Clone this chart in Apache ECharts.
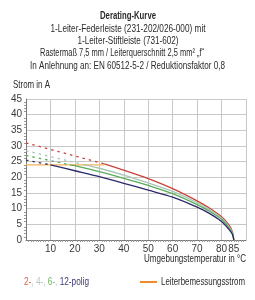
<!DOCTYPE html>
<html>
<head>
<meta charset="utf-8">
<script src="https://cdn.jsdelivr.net/npm/echarts@6/dist/echarts.min.js"></script>
<style>
  html, body { margin: 0; padding: 0; background: #fff; }
  #chart { width: 255px; height: 300px; }
</style>
</head>
<body>
<div id="chart"></div>
<script>
// Achsenbeschriftung
const xTickLabels = [10, 20, 30, 40, 50, 60, 70, 80, 85]
const yTickLabels = [0, 5, 10, 15, 20, 25, 30, 35, 40, 45]

// [Temperatur °C, Strom A] - gestrichelt oberhalb Leiterbemessungsstrom
const pol2Dash = [[0, 31.0], [32, 24.3]]
const pol2 = [[32, 24.3], [40, 22.3], [50, 19.6], [60, 16.4], [70, 12.5], [75, 10.2], [80, 7.4], [83, 4.8], [84.5, 2.5], [85, 0]]
const pol4Dash = [[0, 28.5], [24, 24.0]]
const pol4 = [[24, 24.0], [30, 22.9], [40, 20.7], [50, 18.2], [60, 15.5], [70, 11.9], [75, 9.7], [80, 7.0], [83, 4.3], [84.5, 2.2], [85, 0]]
const pol6Dash = [[0, 27.0], [18, 24.0]]
const pol6 = [[18, 24.0], [20, 23.7], [30, 21.8], [40, 19.7], [50, 17.4], [60, 14.8], [70, 11.3], [75, 9.2], [80, 6.6], [83, 3.9], [84.5, 2.0], [85, 0]]
const pol12Dash = [[0, 25.5], [10, 24.0]]
const pol12 = [[10, 24.0], [20, 22.1], [30, 20.2], [40, 18.1], [50, 15.9], [60, 13.7], [70, 10.5], [75, 8.5], [80, 5.9], [83, 3.4], [84.5, 1.7], [85, 0]]
const ratedCurrent = [[0, 24], [32, 24]]

const FONT = '"Liberation Sans", Arial, sans-serif'
const COLORS = { p2: '#c8423a', p4: '#a9c5b6', p6: '#5aab5a', p12: '#2c2a68', rated: '#f3b35a' }

// schmale Schrift nachbilden: Text horizontal auf Zielbreite stauchen
const ctx = document.createElement('canvas').getContext('2d')
function narrowText(text, font, x, y, width, align, extra) {
  ctx.font = font
  const plain = text.replace(/\{\w+\|([^}]*)\}/g, '$1')
  const w = ctx.measureText(plain).width
  return {
    type: 'text', x, y, scaleX: width / w,
    style: Object.assign({ text, font, fill: '#2a2a2a', textAlign: align, textVerticalAlign: 'middle' }, extra || {})
  }
}

const chart = echarts.init(document.getElementById('chart'))

const solid = (data, color) => ({
  type: 'line', data, smooth: 0.3, symbol: 'none',
  lineStyle: { color, width: 1.3 }, z: 3
})
const dashed = (data, color) => ({
  type: 'line', data, symbol: 'none',
  lineStyle: { color, width: 1.3, type: [2.5, 4] }, z: 3
})

const F11 = '11px ' + FONT
const legendRich = {
  a: { fill: '#e0654a', font: F11 },
  b: { fill: '#b4c8c0', font: F11 },
  c: { fill: '#6fb25e', font: F11 },
  d: { fill: '#3b3a78', font: F11 },
  s: { fill: '#b4c8c0', font: F11 }
}

chart.setOption({
  animation: false,
  textStyle: { fontFamily: FONT },
  grid: { left: 26, right: 9, top: 99, bottom: 60 },
  xAxis: {
    type: 'value', min: 0, max: 90, interval: 10,
    axisLine: { lineStyle: { color: '#777' } },
    axisTick: { show: false },
    minorTick: { show: true, splitNumber: 10, length: 2, lineStyle: { color: '#999' } },
    axisLabel: { customValues: xTickLabels, fontSize: 10, color: '#3a3a3a', margin: 4 },
    splitLine: { show: true, lineStyle: { color: '#c8c8c8', width: 1 } }
  },
  yAxis: {
    type: 'value', min: 0, max: 45, interval: 5,
    axisLine: { show: true, lineStyle: { color: '#777' } },
    axisTick: { show: false },
    minorTick: { show: true, splitNumber: 5, length: 2, lineStyle: { color: '#999' } },
    axisLabel: { customValues: yTickLabels, fontSize: 10, color: '#3a3a3a', margin: 4 },
    splitLine: { show: true, lineStyle: { color: '#c8c8c8', width: 1 } }
  },
  graphic: [
    narrowText('Derating-Kurve', 'bold 11px ' + FONT, 128, 16, 56, 'center'),
    narrowText('1-Leiter-Federleiste (231-202/026-000) mit', F11, 128, 29, 155, 'center'),
    narrowText('1-Leiter-Stiftleiste (731-602)', F11, 128, 41, 101, 'center'),
    narrowText('Rastermaß 7,5 mm / Leiterquerschnitt 2,5 mm² „f“', F11, 122, 53, 164, 'center'),
    narrowText('In Anlehnung an: EN 60512-5-2 / Reduktionsfaktor 0,8', F11, 127.5, 66, 195, 'center'),
    narrowText('Strom in A', F11, 13, 85, 37, 'left'),
    narrowText('Umgebungstemperatur in °C', F11, 246, 259, 102, 'right'),
    narrowText('{a|2-}{s|, }{b|4-}{s|, }{c|6-}{s|, }{d|12-polig}', F11, 24, 282, 65, 'left', { rich: legendRich }),
    { type: 'line', shape: { x1: 140, y1: 282, x2: 157, y2: 282 }, style: { stroke: '#f08a2a', lineWidth: 2 } },
    narrowText('Leiterbemessungsstrom', F11, 161, 282, 84, 'left')
  ],
  series: [
    { type: 'line', data: ratedCurrent, symbol: 'none', lineStyle: { color: COLORS.rated, width: 1.3 }, z: 2 },
    dashed(pol2Dash, COLORS.p2), solid(pol2, COLORS.p2),
    dashed(pol4Dash, COLORS.p4), solid(pol4, COLORS.p4),
    dashed(pol6Dash, COLORS.p6), solid(pol6, COLORS.p6),
    dashed(pol12Dash, COLORS.p12), solid(pol12, COLORS.p12)
  ]
})
</script>
</body>
</html>
